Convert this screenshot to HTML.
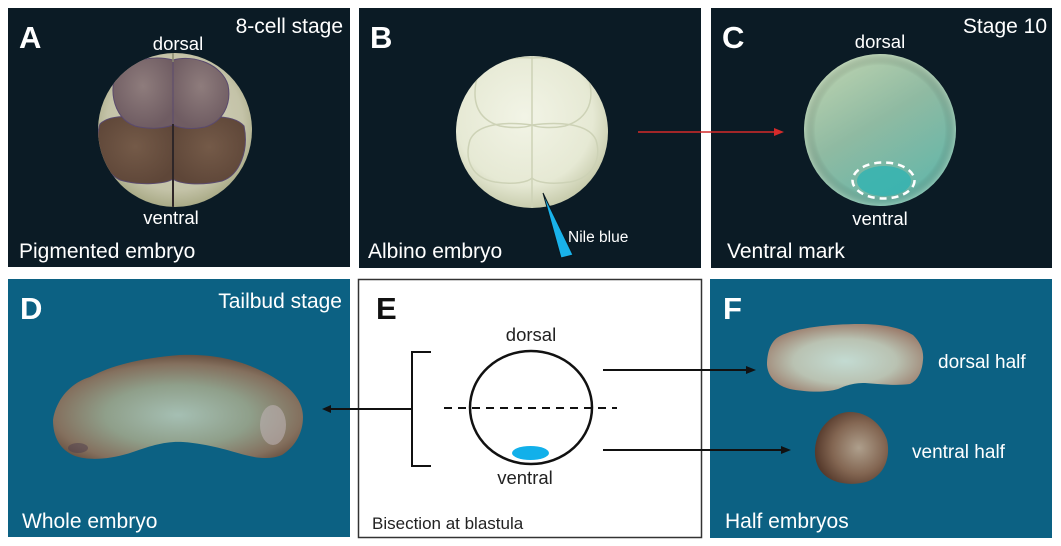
<!DOCTYPE html>
<html><head><meta charset="utf-8">
<style>
html,body{margin:0;padding:0;background:#fff;}
svg{display:block;}
text{font-family:"Liberation Sans",Arial,sans-serif;}
</style></head>
<body>
<svg width="1061" height="546" viewBox="0 0 1061 546" xmlns="http://www.w3.org/2000/svg">
<defs>
  <radialGradient id="ga" cx="0.5" cy="0.45" r="0.55">
    <stop offset="0" stop-color="#d6d4bf"/>
    <stop offset="0.8" stop-color="#c4c3a8"/>
    <stop offset="1" stop-color="#a9aa86"/>
  </radialGradient>
  <radialGradient id="gup" cx="0.5" cy="0.4" r="0.6">
    <stop offset="0" stop-color="#8e7c7c"/>
    <stop offset="1" stop-color="#6f5c62"/>
  </radialGradient>
  <radialGradient id="glo" cx="0.5" cy="0.45" r="0.6">
    <stop offset="0" stop-color="#745a48"/>
    <stop offset="1" stop-color="#5e4638"/>
  </radialGradient>
  <radialGradient id="gb" cx="0.45" cy="0.4" r="0.6">
    <stop offset="0" stop-color="#f2f4e6"/>
    <stop offset="0.75" stop-color="#e6e9d4"/>
    <stop offset="1" stop-color="#c9cdae"/>
  </radialGradient>
  <linearGradient id="gc" x1="0.2" y1="0" x2="0.8" y2="1">
    <stop offset="0" stop-color="#bcd3b0"/>
    <stop offset="0.45" stop-color="#8fbaa2"/>
    <stop offset="1" stop-color="#5fb6aa"/>
  </linearGradient>
  <radialGradient id="gc2" cx="0.5" cy="0.5" r="0.5">
    <stop offset="0.85" stop-color="#000" stop-opacity="0"/>
    <stop offset="1" stop-color="#cfe0c8" stop-opacity="0.35"/>
  </radialGradient>
  <radialGradient id="gd" cx="0.5" cy="0.58" r="0.58">
    <stop offset="0" stop-color="#a5bfb3"/>
    <stop offset="0.5" stop-color="#8f9f8a"/>
    <stop offset="0.85" stop-color="#84705e"/>
    <stop offset="1" stop-color="#6a5242"/>
  </radialGradient>
  <radialGradient id="gf1" cx="0.5" cy="0.55" r="0.6">
    <stop offset="0" stop-color="#c3dbd2"/>
    <stop offset="0.55" stop-color="#b9c2b2"/>
    <stop offset="1" stop-color="#997766"/>
  </radialGradient>
  <radialGradient id="gf2" cx="0.6" cy="0.5" r="0.6">
    <stop offset="0" stop-color="#ae9f8c"/>
    <stop offset="0.6" stop-color="#836652"/>
    <stop offset="1" stop-color="#563a2c"/>
  </radialGradient>
  <clipPath id="ca"><circle cx="175" cy="130" r="77"/></clipPath>
  <clipPath id="cb"><circle cx="532" cy="132" r="76"/></clipPath>
</defs>

<!-- Panel A -->
<rect x="8" y="8" width="342" height="259" fill="#0b1b25"/>
<circle cx="175" cy="130" r="77" fill="url(#ga)"/>
<g clip-path="url(#ca)">
  <path d="M173,124 C150,116 112,112 100,124 C94,140 100,170 120,180 C140,186 165,184 173,179 Z" fill="url(#glo)" stroke="#5a4a6e" stroke-width="1"/>
  <path d="M173,124 C195,116 232,112 244,126 C249,150 240,175 222,181 C200,186 180,184 173,179 Z" fill="url(#glo)" stroke="#5a4a6e" stroke-width="1"/>
  <path d="M173,60 C150,54 120,62 114,80 C110,100 118,120 135,126 C150,130 165,128 173,125 Z" fill="url(#gup)" stroke="#5a4a6e" stroke-width="1"/>
  <path d="M173,60 C195,54 222,65 228,85 C232,105 222,122 205,127 C190,130 180,128 173,125 Z" fill="url(#gup)" stroke="#5a4a6e" stroke-width="1"/>
  <line x1="173" y1="124" x2="173" y2="208" stroke="#2e2628" stroke-width="2"/>
  <line x1="173" y1="53" x2="173" y2="62" stroke="#8a8a70" stroke-width="1.5"/>
</g>
<text x="19" y="48" font-size="31" font-weight="bold" fill="#fff">A</text>
<text x="343" y="33" font-size="21" fill="#fff" text-anchor="end">8-cell stage</text>
<text x="178" y="50" font-size="18.5" fill="#fff" text-anchor="middle">dorsal</text>
<text x="171" y="224" font-size="18.5" fill="#fff" text-anchor="middle">ventral</text>
<text x="19" y="258" font-size="21" fill="#fff">Pigmented embryo</text>

<!-- Panel B -->
<rect x="359" y="8" width="342" height="260" fill="#0b1b25"/>
<circle cx="532" cy="132" r="76" fill="url(#gb)"/>
<g clip-path="url(#cb)" fill="none" stroke="#cdd2b6" stroke-width="1.5">
  <path d="M532,58 C510,56 480,62 476,82 C472,105 480,120 500,126 C515,129 528,127 532,125"/>
  <path d="M532,58 C555,56 585,62 590,84 C594,105 585,120 565,126 C550,129 536,127 532,125"/>
  <path d="M532,125 C510,122 478,122 470,140 C464,160 472,178 495,182 C515,185 528,182 532,178"/>
  <path d="M532,125 C555,122 588,122 596,140 C602,160 592,178 570,182 C550,185 536,182 532,178"/>
  <line x1="532" y1="56" x2="532" y2="210"/>
</g>
<polygon points="543,193 561,258 573,255" fill="#19b2ea" stroke="#0a1820" stroke-width="1"/>
<text x="568" y="242" font-size="15.5" fill="#fff">Nile blue</text>
<text x="370" y="48" font-size="31" font-weight="bold" fill="#fff">B</text>
<text x="368" y="258" font-size="21" fill="#fff">Albino embryo</text>

<!-- Panel C -->
<rect x="711" y="8" width="341" height="260" fill="#0b1b25"/>
<circle cx="880" cy="130" r="76" fill="url(#gc)"/>
<circle cx="880" cy="130" r="76" fill="url(#gc2)"/>
<ellipse cx="884" cy="181" rx="27" ry="15" fill="#35b3b0" opacity="0.85"/>
<ellipse cx="883.5" cy="180.5" rx="31" ry="18" fill="none" stroke="#fff" stroke-width="2.5" stroke-dasharray="7,5"/>
<text x="722" y="48" font-size="31" font-weight="bold" fill="#fff">C</text>
<text x="1047" y="33" font-size="21" fill="#fff" text-anchor="end">Stage 10</text>
<text x="880" y="48" font-size="18.5" fill="#fff" text-anchor="middle">dorsal</text>
<text x="880" y="225" font-size="18.5" fill="#fff" text-anchor="middle">ventral</text>
<text x="727" y="258" font-size="21" fill="#fff">Ventral mark</text>

<!-- Red arrow B -> C -->
<line x1="638" y1="132" x2="776" y2="132" stroke="#d42a2a" stroke-width="1.6"/>
<polygon points="774,128 784,132 774,136" fill="#d42a2a"/>

<!-- Panel D -->
<rect x="8" y="279" width="342" height="258" fill="#0c6183"/>
<path d="M53,420 C56,400 70,383 90,377 C110,366 140,358 180,355 C210,354 240,358 273,377 C290,387 303,400 303,417 C303,432 296,446 282,455 C270,460 257,458 245,455 C230,451 210,444 183,442 C165,441 150,446 130,453 C110,459 90,461 75,456 C60,450 53,437 53,420 Z" fill="url(#gd)"/>
<ellipse cx="273" cy="425" rx="13" ry="20" fill="#bdb0b2" opacity="0.6"/>
<ellipse cx="78" cy="448" rx="10" ry="5" fill="#4c3c4c" opacity="0.5"/>
<text x="20" y="319" font-size="31" font-weight="bold" fill="#fff">D</text>
<text x="342" y="308" font-size="21" fill="#fff" text-anchor="end">Tailbud stage</text>
<text x="22" y="528" font-size="21" fill="#fff">Whole embryo</text>

<!-- Panel E -->
<rect x="358.5" y="279.5" width="343" height="258" fill="#fff" stroke="#333" stroke-width="1.5"/>
<text x="376" y="319" font-size="31" font-weight="bold" fill="#111">E</text>
<text x="531" y="341" font-size="18.5" fill="#222" text-anchor="middle">dorsal</text>
<text x="525" y="484" font-size="18.5" fill="#222" text-anchor="middle">ventral</text>
<text x="372" y="529" font-size="17" fill="#222">Bisection at blastula</text>
<ellipse cx="531" cy="407.5" rx="61" ry="56.5" fill="none" stroke="#111" stroke-width="2.5"/>
<line x1="444" y1="408" x2="617" y2="408" stroke="#111" stroke-width="2" stroke-dasharray="8,6"/>
<ellipse cx="530.5" cy="453" rx="18.5" ry="7" fill="#12b0ea"/>
<path d="M431,352 H412 V466 H431" fill="none" stroke="#111" stroke-width="2"/>
<line x1="412" y1="409" x2="330" y2="409" stroke="#111" stroke-width="2"/>
<polygon points="331,405 322,409 331,413" fill="#111"/>

<!-- Panel F -->
<rect x="710" y="279" width="342" height="259" fill="#0c6183"/>
<line x1="603" y1="370" x2="748" y2="370" stroke="#111" stroke-width="2"/>
<polygon points="746,366 756,370 746,374" fill="#111"/>
<line x1="603" y1="450" x2="783" y2="450" stroke="#111" stroke-width="2"/>
<polygon points="781,446 791,450 781,454" fill="#111"/>
<path d="M767,365 C767,350 772,340 780,336 C795,328 830,324 860,324 C880,324 900,327 913,335 C920,342 924,350 923,360 C922,372 918,380 910,384 C895,386 880,384 865,383 C852,383 845,386 838,389 C825,393 805,392 790,389 C778,386 768,378 767,365 Z" fill="url(#gf1)"/>
<path d="M850,412 C868,412 882,425 887,440 C891,458 884,476 866,482 C850,486 830,484 820,470 C812,458 814,440 822,428 C830,417 840,412 850,412 Z" fill="url(#gf2)"/>
<text x="723" y="319" font-size="31" font-weight="bold" fill="#fff">F</text>
<text x="938" y="368" font-size="19" fill="#fff">dorsal half</text>
<text x="912" y="458" font-size="19" fill="#fff">ventral half</text>
<text x="725" y="528" font-size="21" fill="#fff">Half embryos</text>
</svg>
</body></html>
